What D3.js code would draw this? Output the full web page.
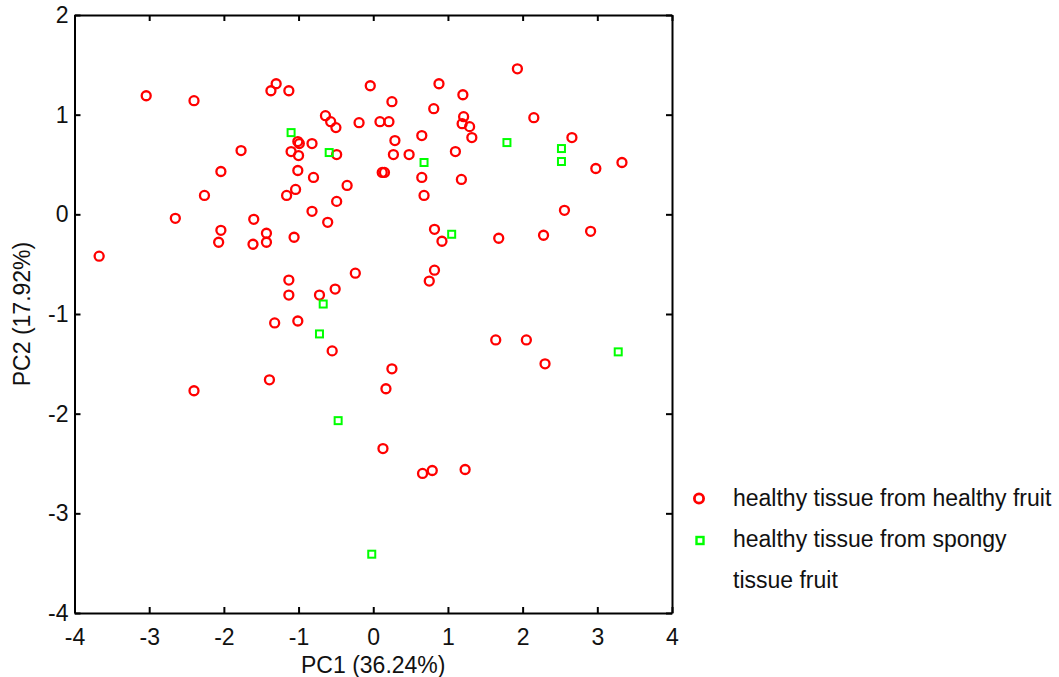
<!DOCTYPE html>
<html>
<head>
<meta charset="utf-8">
<script src="https://cdn.jsdelivr.net/npm/d3@7"></script>
<style>
  body { margin: 0; background: #fff; }
  svg { display: block; font-family: "Liberation Sans", Arial, sans-serif; }
  .axis path, .axis line { stroke: #000; stroke-width: 2; }
  .axis text { font-size: 23px; fill: #111; font-family: "Liberation Sans", Arial, sans-serif; }
</style>
</head>
<body>
<svg id="chart" width="1059" height="677"></svg>
<script>
// healthy tissue from healthy fruit
var healthyPC1 = [-3.04,-2.40,-1.30,-1.37,-1.13,-0.04,-0.64,-0.57,-0.50,-0.19,-1.01,-0.99,-0.82,-1.77,-1.10,-1.00,-0.49,-2.04,-1.01,-0.80,
  -0.35,-2.26,-1.16,-1.04,-0.49,-0.82,-2.65,-1.60,-0.61,-2.04,-2.07,-1.43,-1.43,-1.61,-1.06,-3.67,-0.24,-1.13,-1.13,-0.72,-0.51,
  0.25,0.88,1.93,0.81,1.20,0.09,0.21,1.21,1.19,1.29,1.32,2.15,0.65,0.29,2.66,0.27,0.48,1.10,0.12,0.15,0.65,1.18,2.98,3.33,0.68,
  2.56,0.82,0.92,1.68,2.28,2.91,0.82,0.75,
  -1.32,-1.01,-0.55,-1.39,-2.40,0.25,0.17,0.13,0.66,0.79,1.23,1.64,2.05,2.30];
var healthyPC2 = [1.19,1.14,1.31,1.24,1.24,1.29,0.99,0.93,0.87,0.92,0.73,0.71,0.71,0.64,0.63,0.59,0.60,0.43,0.44,0.37,
  0.29,0.19,0.19,0.25,0.13,0.03,-0.04,-0.05,-0.08,-0.16,-0.28,-0.19,-0.28,-0.30,-0.23,-0.42,-0.59,-0.66,-0.81,-0.81,-0.75,
  1.13,1.31,1.46,1.06,1.20,0.93,0.93,0.98,0.91,0.88,0.77,0.97,0.79,0.74,0.77,0.60,0.60,0.63,0.42,0.42,0.37,0.35,0.46,0.52,0.19,
  0.04,-0.15,-0.27,-0.24,-0.21,-0.17,-0.56,-0.67,
  -1.09,-1.07,-1.37,-1.66,-1.77,-1.55,-1.75,-2.35,-2.60,-2.57,-2.56,-1.26,-1.26,-1.50];

// healthy tissue from spongy tissue fruit
var spongyPC1 = [-1.10,-0.59,-0.67,1.79,2.52,2.52,0.68,1.05,-0.72,-0.47,-0.02,3.28];
var spongyPC2 = [0.82,0.62,-0.90,0.72,0.66,0.53,0.52,-0.20,-1.20,-2.07,-3.41,-1.38];

var xTicks = [-4,-3,-2,-1,0,1,2,3,4];
var yTicks = [2,1,0,-1,-2,-3,-4];
var legendLabels = [["healthy tissue from healthy fruit"], ["healthy tissue from spongy", "tissue fruit"]];

var plotLeft = 74.5, plotRight = 672, plotTop = 15, plotBottom = 613;
var svg = d3.select('#chart');

var x = d3.scaleLinear().domain([-4, 4]).range([plotLeft, plotRight]);
var y = d3.scaleLinear().domain([-4, 2]).range([plotBottom, plotTop]);

// box with inward ticks on all sides
svg.append('g').attr('class','axis').attr('transform','translate(0,' + plotBottom + ')')
    .call(d3.axisBottom(x).tickValues(xTicks).tickSizeInner(-6).tickSizeOuter(0).tickPadding(16).tickFormat(d3.format('d')));
svg.append('g').attr('class','axis').attr('transform','translate(0,' + plotTop + ')')
    .call(d3.axisTop(x).tickValues(xTicks).tickSizeInner(-6).tickSizeOuter(0).tickFormat(''));
svg.append('g').attr('class','axis').attr('transform','translate(' + plotLeft + ',0)')
    .call(d3.axisLeft(y).tickValues(yTicks).tickSizeInner(-6).tickSizeOuter(0).tickPadding(6).tickFormat(d3.format('d')));
svg.append('g').attr('class','axis').attr('transform','translate(' + plotRight + ',0)')
    .call(d3.axisRight(y).tickValues(yTicks).tickSizeInner(-6).tickSizeOuter(0).tickFormat(''));
svg.selectAll('.axis text').text(function(){ return this.textContent.replace('−','-'); });

// axis titles
svg.append('text')
    .attr('x', (plotLeft + plotRight) / 2).attr('y', 673)
    .attr('text-anchor','middle').style('font-size','23px').attr('fill','#111')
    .text('PC1 (36.24%)');
svg.append('text')
    .attr('transform','translate(30,' + ((plotTop + plotBottom) / 2) + ') rotate(-90)')
    .attr('text-anchor','middle').style('font-size','23px').attr('fill','#111')
    .text('PC2 (17.92%)');

// points
var healthy = healthyPC1.map(function(d, i){ return [d, healthyPC2[i]]; });
var spongy = spongyPC1.map(function(d, i){ return [d, spongyPC2[i]]; });

svg.append('g').selectAll('circle')
    .data(healthy)
    .enter()
    .append('circle')
        .attr('cx', function(d){ return x(d[0]); })
        .attr('cy', function(d){ return y(d[1]); })
        .attr('r', 4.5)
        .attr('fill','none').attr('stroke','#ff0000').attr('stroke-width',2.3);

var sq = 7;
svg.append('g').selectAll('rect')
    .data(spongy)
    .enter()
    .append('rect')
        .attr('x', function(d){ return x(d[0]) - sq / 2; })
        .attr('y', function(d){ return y(d[1]) - sq / 2; })
        .attr('width', sq).attr('height', sq)
        .attr('fill','none').attr('stroke','#00ff00').attr('stroke-width',2);

// legend
var legend = svg.append('g');
legend.append('circle').attr('cx',699).attr('cy',498.5).attr('r',4.6)
    .attr('fill','none').attr('stroke','#ff0000').attr('stroke-width',2.8);
legend.append('rect').attr('x',700 - sq / 2).attr('y',540.5 - sq / 2).attr('width',sq).attr('height',sq)
    .attr('fill','none').attr('stroke','#00ff00').attr('stroke-width',2.4);
var lines = [[legendLabels[0][0], 506], [legendLabels[1][0], 547], [legendLabels[1][1], 588]];
legend.selectAll('text')
    .data(lines)
    .enter()
    .append('text')
        .attr('x', 733).attr('y', function(d){ return d[1]; })
        .style('font-size','23px').attr('fill','#111')
        .text(function(d){ return d[0]; });
</script>
</body>
</html>
